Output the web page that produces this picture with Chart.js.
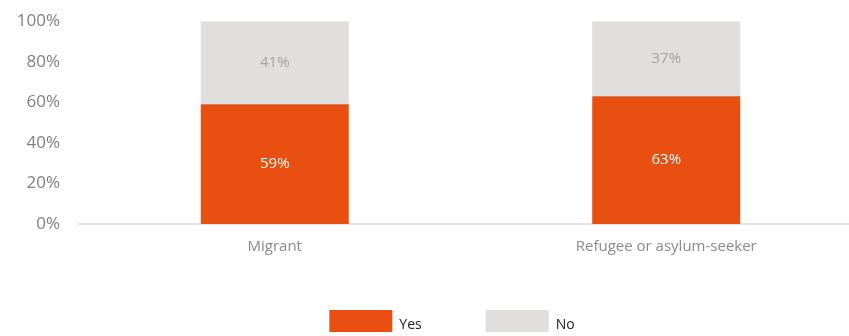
<!DOCTYPE html>
<html>
<head>
<meta charset="utf-8">
<script src="https://cdn.jsdelivr.net/npm/chart.js@4"></script>
<style>
  html, body { margin: 0; padding: 0; background: #fff; overflow: hidden; }
  #wrap { width: 862px; height: 348px; }
</style>
</head>
<body>
<div id="wrap"><canvas id="myChart" width="862" height="348"></canvas></div>
<script>
const categories = ['Migrant', 'Refugee or asylum-seeker'];
const yesValues = [59, 63];
const noValues = [41, 37];
const yTicks = [0, 20, 40, 60, 80, 100];

const FONT = '"Open Sans", Lato, sans-serif';

// draws the percentage inside each bar segment
const barLabels = {
  id: 'barLabels',
  afterDatasetsDraw(chart) {
    const c = chart.ctx;
    chart.data.datasets.forEach((ds, i) => {
      const meta = chart.getDatasetMeta(i);
      meta.data.forEach((bar, j) => {
        c.save();
        c.font = '15px ' + FONT;
        c.fillStyle = ds.labelColor;
        c.textAlign = 'center';
        c.textBaseline = 'middle';
        c.fillText(ds.data[j] + '%', bar.x, (bar.y + bar.base) / 2);
        c.restore();
      });
    });
  }
};

// move legend a bit right and up, like the original
const legendShift = {
  id: 'legendShift',
  afterLayout(chart) {
    chart.legend.left += 21;
    chart.legend.right += 21;
    chart.legend.top -= 16;
    chart.legend.bottom -= 16;
  }
};

const ctx = document.getElementById('myChart').getContext('2d');

const myChart = new Chart(ctx, {
  type: 'bar',
  data: {
    labels: categories,
    datasets: [{
      label: 'Yes',
      data: yesValues,
      backgroundColor: '#e84f10',
      labelColor: '#ffffff',
      categoryPercentage: 1,
      barPercentage: 0.378
    }, {
      label: 'No',
      data: noValues,
      backgroundColor: '#e1dfde',
      labelColor: '#a5a3a2',
      categoryPercentage: 1,
      barPercentage: 0.378
    }]
  },
  options: {
    responsive: false,
    animation: false,
    layout: { padding: { top: 1, right: 0, left: 0, bottom: 0 } },
    plugins: {
      tooltip: { enabled: false },
      legend: {
        position: 'bottom',
        maxHeight: 86,
        labels: {
          boxWidth: 63,
          boxHeight: 30,
          padding: 64,
          color: '#222',
          font: { family: FONT, size: 14 }
        }
      }
    },
    scales: {
      x: {
        stacked: true,
        grid: { display: false },
        border: { display: true, color: '#e3e3e3', width: 2 },
        ticks: { color: '#8a8a8a', font: { family: FONT, size: 15 }, padding: 6 }
      },
      y: {
        stacked: true,
        min: 0,
        max: 100,
        grid: { display: false },
        border: { display: false },
        afterFit(scale) { scale.width = 79; },
        afterBuildTicks(scale) { scale.ticks = yTicks.map(v => ({ value: v })); },
        ticks: {
          color: '#808080',
          padding: 11,
          font: { family: FONT, size: 17 },
          callback: v => v + '%'
        }
      }
    }
  },
  plugins: [barLabels, legendShift]
});
</script>
</body>
</html>
